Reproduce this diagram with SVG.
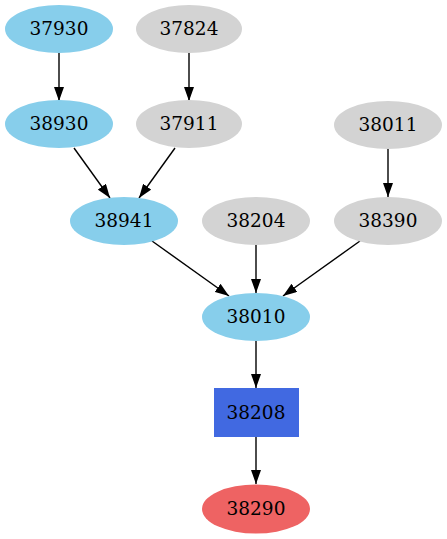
<svg xmlns="http://www.w3.org/2000/svg" width="447" height="539" viewBox="0 0 447 539">
<style>
.t{font-family:"DejaVu Serif",serif;font-size:18.5px;text-anchor:middle;fill:#000}
.sky{fill:#87CEEB}
.gray{fill:#D3D3D3}
.e{stroke:#000;stroke-width:1.4;fill:none;marker-end:url(#ah)}
</style>
<defs>
<marker id="ah" markerUnits="userSpaceOnUse" markerWidth="14" markerHeight="10" refX="14" refY="5" orient="auto" viewBox="0 0 14 10">
<path d="M0,0 L14,5 L0,10 z" fill="#000"/>
</marker>
</defs>
<rect width="447" height="539" fill="#fff"/>
<g id="edges">
<line class="e" x1="59" y1="53" x2="59" y2="101"/>
<line class="e" x1="189" y1="53" x2="189" y2="101"/>
<line class="e" x1="74" y1="148" x2="110" y2="198"/>
<line class="e" x1="175" y1="148" x2="139" y2="198"/>
<line class="e" x1="388" y1="149" x2="388" y2="197"/>
<line class="e" x1="152" y1="241" x2="229" y2="296"/>
<line class="e" x1="256" y1="245" x2="256" y2="293"/>
<line class="e" x1="360" y1="241" x2="283" y2="296"/>
<line class="e" x1="256" y1="341" x2="256" y2="388"/>
<line class="e" x1="256" y1="437" x2="256" y2="484"/>
</g>
<g id="n37930"><ellipse class="sky" cx="59" cy="29" rx="54" ry="24"/><text class="t" x="59" y="35">37930</text></g>
<g id="n37824"><ellipse class="gray" cx="189" cy="29" rx="53" ry="24"/><text class="t" x="189" y="35">37824</text></g>
<g id="n38930"><ellipse class="sky" cx="59" cy="124" rx="54" ry="24"/><text class="t" x="59" y="130">38930</text></g>
<g id="n37911"><ellipse class="gray" cx="189" cy="124" rx="53" ry="24"/><text class="t" x="189" y="130">37911</text></g>
<g id="n38011"><ellipse class="gray" cx="388" cy="125" rx="54" ry="24"/><text class="t" x="388" y="131">38011</text></g>
<g id="n38941"><ellipse class="sky" cx="124" cy="221" rx="54" ry="24"/><text class="t" x="124" y="227">38941</text></g>
<g id="n38204"><ellipse class="gray" cx="256" cy="221" rx="54" ry="24"/><text class="t" x="256" y="227">38204</text></g>
<g id="n38390"><ellipse class="gray" cx="388" cy="221" rx="54" ry="24"/><text class="t" x="388" y="227">38390</text></g>
<g id="n38010"><ellipse class="sky" cx="256" cy="317" rx="54" ry="24"/><text class="t" x="256" y="323">38010</text></g>
<g id="n38208"><rect x="214" y="388" width="85" height="49" fill="#4169E1"/><text class="t" x="256" y="419">38208</text></g>
<g id="n38290"><ellipse cx="256" cy="509" rx="54" ry="24.5" fill="#EE6363"/><text class="t" x="256" y="515">38290</text></g>
</svg>
